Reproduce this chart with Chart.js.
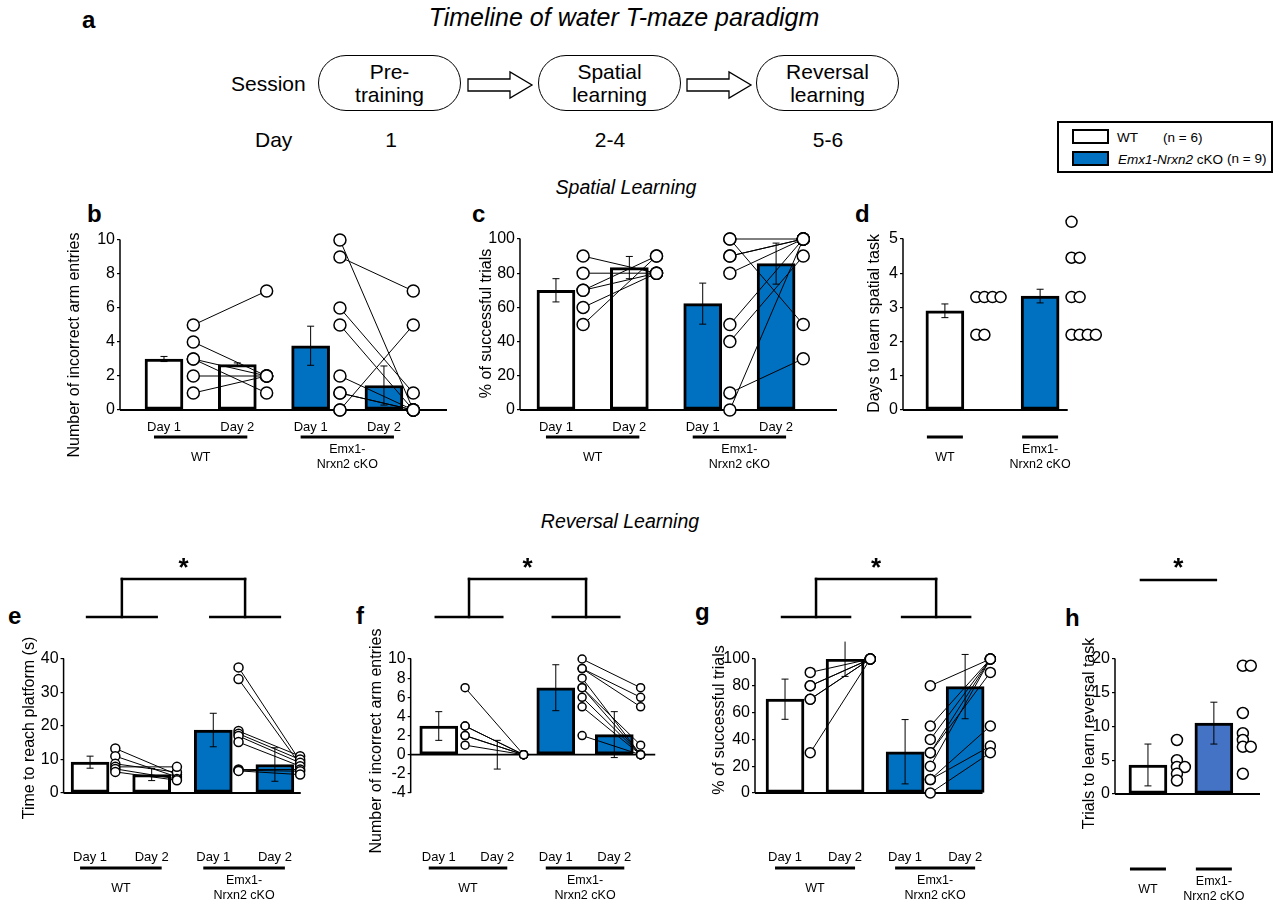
<!DOCTYPE html>
<html>
<head>
<meta charset="utf-8">
<script src="https://cdn.jsdelivr.net/npm/chart.js@4.4.1/dist/chart.umd.min.js"></script>
<style>
  body { margin: 0; width: 1280px; height: 904px; position: relative; overflow: hidden; background: #fff;
         font-family: "Liberation Sans", Arial, sans-serif; color: #000; }
  .abs { position: absolute; white-space: nowrap; line-height: 1; }
  .letter { position: absolute; font-weight: bold; font-size: 24px; line-height: 1; }
  .head { position: absolute; font-style: italic; font-size: 19.5px; line-height: 1; white-space: nowrap; transform: translateX(-50%); }
  .t20 { font-size: 21px; }
  .ctr { transform: translateX(-50%); }
  .pill { position: absolute; width: 141px; height: 54px; border: 1.5px solid #000; border-radius: 28px;
          display: flex; align-items: center; justify-content: center; text-align: center; font-size: 21px; line-height: 1.1; }
  .sw { position: absolute; width: 33px; height: 11px; border: 2px solid #000; }
  .leg { position: absolute; font-size: 13.5px; line-height: 1; white-space: nowrap; }
  canvas { position: absolute; }
</style>
</head>
<body>
<!-- panel a: timeline -->
<div class="letter" style="left:82px;top:8px">a</div>
<div class="head" style="left:624px;top:5px;font-size:25px">Timeline of water T-maze paradigm</div>
<div class="abs t20" style="left:231px;top:73px">Session</div>
<div class="pill" style="left:318px;top:55px">Pre-<br>training</div>
<svg class="abs" style="left:466px;top:70px" width="70" height="30"><polygon points="2,9 44,9 44,2 66,15 44,28 44,21 2,21" fill="#fff" stroke="#000" stroke-width="1.3"/></svg>
<div class="pill" style="left:538px;top:55px">Spatial<br>learning</div>
<svg class="abs" style="left:685px;top:70px" width="70" height="30"><polygon points="2,9 44,9 44,2 66,15 44,28 44,21 2,21" fill="#fff" stroke="#000" stroke-width="1.3"/></svg>
<div class="pill" style="left:756px;top:55px">Reversal<br>learning</div>
<div class="abs t20" style="left:255px;top:129px">Day</div>
<div class="abs t20 ctr" style="left:391px;top:129px">1</div>
<div class="abs t20 ctr" style="left:610px;top:129px">2-4</div>
<div class="abs t20 ctr" style="left:828px;top:129px">5-6</div>

<!-- legend -->
<div class="abs" style="left:1057px;top:121px;width:212px;height:48px;border:2.5px solid #000"></div>
<div class="sw" style="left:1072px;top:129px;background:#fff"></div>
<div class="leg" style="left:1117px;top:131px">WT</div>
<div class="leg" style="left:1163px;top:131px">(n = 6)</div>
<div class="sw" style="left:1072px;top:151px;background:#0070c0"></div>
<div class="leg" style="left:1118px;top:153px"><i>Emx1-Nrxn2</i> cKO</div>
<div class="leg" style="left:1227px;top:152px">(n = 9)</div>

<div class="head" style="left:626px;top:178px">Spatial Learning</div>
<div class="head" style="left:620px;top:512px">Reversal Learning</div>

<div class="letter" style="left:87px;top:202px">b</div>
<div class="letter" style="left:472px;top:202px">c</div>
<div class="letter" style="left:855px;top:202px">d</div>
<div class="letter" style="left:8px;top:604px">e</div>
<div class="letter" style="left:356px;top:604px">f</div>
<div class="letter" style="left:695px;top:600px">g</div>
<div class="letter" style="left:1065px;top:606px">h</div>

<canvas id="cb" width="400" height="280" style="left:60px;top:195px"></canvas>
<canvas id="cc" width="376" height="250" style="left:474px;top:225px"></canvas>
<canvas id="cd" width="248" height="275" style="left:862px;top:200px"></canvas>
<canvas id="ce" width="335" height="359" style="left:15px;top:545px"></canvas>
<canvas id="cf" width="328" height="359" style="left:362px;top:545px"></canvas>
<canvas id="cg" width="333" height="359" style="left:707px;top:545px"></canvas>
<canvas id="ch" width="195" height="359" style="left:1077px;top:545px"></canvas>

<script>
Chart.defaults.font.family = '"Liberation Sans", Arial, sans-serif';
Chart.defaults.color = '#000';

const sessionLabels = ['Day 1', 'Day 2', 'Day 1', 'Day 2'];
const groupLabels = ['WT', 'Emx1-\nNrxn2 cKO'];
const WHITE = '#ffffff', BLUE = '#0070c0', BLUE_H = '#4472c4';

// b - spatial learning, incorrect arm entries
const bMeans = [3.0, 2.67, 3.78, 1.44];
const bSems = [0.15, 0.1, 1.15, 1.15];
const bWtDay1 = [5, 4, 3, 3, 2, 1];
const bWtDay2 = [7, 2, 2, 1, 2, 2];
const bKoDay1 = [10, 9, 6, 5, 2, 1, 1, 0, 0];
const bKoDay2 = [0, 7, 1, 0, 0, 0, 0, 5, 0];

// c - spatial learning, % successful trials
const cMeans = [70, 83.3, 62.2, 85.6];
const cSems = [6.8, 6.5, 12, 12];
const cWtDay1 = [90, 80, 70, 70, 60, 50];
const cWtDay2 = [80, 80, 90, 80, 80, 90];
const cKoDay1 = [100, 100, 90, 90, 80, 50, 40, 10, 0];
const cKoDay2 = [100, 50, 100, 100, 100, 100, 90, 30, 100];

// d - days to learn spatial task
const dMeans = [2.9, 3.33];
const dSems = [0.2, 0.2];
const dWt = [3.3, 3.3, 3.3, 3.3, 2.2, 2.2];
const dKo = [5.5, 4.45, 4.45, 3.3, 3.3, 2.2, 2.2, 2.2, 2.2];

// e - reversal, time to reach platform
const eMeans = [9.2, 5.5, 18.8, 8.5];
const eSems = [1.8, 1.8, 5, 5];
const eWtDay1 = [13.3, 11, 8.7, 7.8, 7.2, 6.3];
const eWtDay2 = [5.5, 4.8, 6.2, 7.8, 4.2, 3.8];
const eKoDay1 = [37.5, 34, 18.5, 17.7, 17, 15.2, 7, 6.8, 6.6];
const eKoDay2 = [9.5, 8.5, 11, 10, 9, 8, 7, 6.5, 5.5];

// f - reversal, incorrect arm entries
const fMeans = [3, 0, 7, 2.1];
const fSems = [1.5, 1.5, 2.4, 2.4];
const fWtDay1 = [7, 3, 3, 2, 2, 1];
const fWtDay2 = [0, 0, 0, 0, 0, 0];
const fKoDay1 = [10, 9, 9, 8, 7, 7, 6, 5, 2];
const fKoDay2 = [7, 6, 5, 0, 1, 0, 0, 0, 0];

// g - reversal, % successful trials
const gMeans = [70, 100, 30.8, 79.4];
const gSems = [15, 13, 24, 24];
const gWtDay1 = [90, 80, 80, 70, 70, 30];
const gWtDay2 = [100, 100, 100, 100, 100, 100];
const gKoDay1 = [80, 50, 40, 30, 30, 20, 10, 10, 0];
const gKoDay2 = [100, 100, 100, 100, 90, 100, 50, 35, 30];

// h - trials to learn reversal task
const hMeans = [4.3, 10.5];
const hSems = [3.1, 3.1];
const hWt = [8, 5, 4, 4, 3, 2];
const hKo = [19, 19, 12, 9, 8, 7, 7, 3];

// axis lines, axis titles, underlines, group names and significance brackets
const seg = (ctx, x1, y1, x2, y2, w) => { ctx.lineWidth = w; ctx.beginPath(); ctx.moveTo(x1, y1); ctx.lineTo(x2, y2); ctx.stroke(); };
const decor = {
  id: 'decor',
  beforeDatasetsDraw(chart, args, o) {
    const { ctx, chartArea: a, scales: { x, y } } = chart;
    ctx.save();
    ctx.strokeStyle = '#000';
    const y0 = y.getPixelForValue(0);
    seg(ctx, a.left, y0, x.getPixelForValue(o.baseEnd), y0, 1.8);
    seg(ctx, a.left, y.getPixelForValue(o.yMin), a.left, y.getPixelForValue(o.yTop) - 0.5, 1.5);
    ctx.restore();
  },
  afterDraw(chart, args, o) {
    const { ctx, chartArea: a, scales: { x, y } } = chart;
    ctx.save();
    ctx.strokeStyle = '#000'; ctx.fillStyle = '#000';
    ctx.textAlign = 'center'; ctx.textBaseline = 'middle';
    // y title
    ctx.save();
    const yc = (y.getPixelForValue(o.yMin) + y.getPixelForValue(o.yTop)) / 2 + o.titleDy;
    ctx.translate(a.left - o.titleOff, yc);
    ctx.rotate(-Math.PI / 2);
    ctx.font = '16px "Liberation Sans", Arial, sans-serif';
    ctx.fillText(o.title, 0, 0);
    ctx.restore();
    // group underlines and names
    ctx.font = '12.5px "Liberation Sans", Arial, sans-serif';
    o.groups.forEach((g) => {
      const l = x.getPixelForValue(g.from) - o.padL, r = x.getPixelForValue(g.to) + o.padR;
      const yy = a.bottom + o.lineY;
      seg(ctx, l, yy, r, yy, 3);
      const lines = g.label.split('\n');
      lines.forEach((t, k) => ctx.fillText(t, (l + r) / 2, a.bottom + o.labelY + (k - (lines.length - 1) / 2) * 15));
    });
    if (o.bracket) {
      const top = a.top - 80, low = a.top - 42;
      ctx.lineCap = 'square';
      let cx;
      if (o.bracket === 'pair') {
        const mids = o.groups.map((g) => {
          const l = x.getPixelForValue(g.from) - 3, r = x.getPixelForValue(g.to) + 5;
          seg(ctx, l, low, r, low, 2.5);
          return (l + r) / 2;
        });
        mids.forEach((m) => seg(ctx, m, low, m, top, 2.5));
        seg(ctx, mids[0], top, mids[1], top, 2.5);
        cx = (mids[0] + mids[1]) / 2;
      } else {
        const l = x.getPixelForValue(0) - 7, r = x.getPixelForValue(1) + 2;
        seg(ctx, l, top + 1, r, top + 1, 2.5);
        cx = (l + r) / 2;
      }
      ctx.font = 'bold 26px "Liberation Sans", Arial, sans-serif';
      ctx.textBaseline = 'alphabetic';
      ctx.fillText('*', cx, top - 3);
    }
    ctx.restore();
  }
};

function panel(id, s) {
  const yTop = s.yTop !== undefined ? s.yTop : s.yMax;
  const ds = [];
  ds.push({ type: 'bar', data: s.means.map((m, i) => ({ x: i, y: m })), backgroundColor: s.colors,
            borderColor: '#000', borderWidth: 3, borderSkipped: false, barThickness: 38, order: 4 });
  s.means.forEach((m, i) => ds.push({ type: 'line', data: [{ x: i, y: m - s.sems[i] }, { x: i, y: m + s.sems[i] }],
            borderColor: '#000', borderWidth: 1, pointStyle: 'line', pointRadius: 3.5, pointBorderWidth: 1,
            pointBorderColor: '#000', clip: false, order: 3 }));
  const dot = (data) => ({ type: 'scatter', data, pointRadius: s.dotR, pointBackgroundColor: '#fff',
            pointBorderColor: '#000', pointBorderWidth: 1.5, clip: false, order: 1 });
  let groups;
  if (s.paired) {
    s.paired.forEach(([d1, d2], g) => {
      const a = 2 * g;
      d1.forEach((v, k) => ds.push({ type: 'line', data: [{ x: a + s.off, y: v }, { x: a + 1 + s.off, y: d2[k] }],
            borderColor: '#000', borderWidth: 1, pointRadius: 0, clip: false, order: 2 }));
      ds.push(dot(d1.map((v) => ({ x: a + s.off, y: v }))));
      ds.push(dot(d2.map((v) => ({ x: a + 1 + s.off, y: v }))));
    });
    groups = [{ from: 0, to: 1, label: groupLabels[0] }, { from: 2, to: 3, label: groupLabels[1] }];
  } else {
    s.swarm.forEach((vals, i) => {
      ds.push(dot(vals.map((v, k) => ({ x: i + s.off + vals.slice(0, k).filter((w) => w === v).length * s.jitter, y: v }))));
    });
    groups = [{ from: 0, to: 0, label: groupLabels[0] }, { from: 1, to: 1, label: groupLabels[1] }];
  }
  new Chart(document.getElementById(id), {
    type: 'bar',
    data: { datasets: ds },
    options: {
      responsive: false, animation: false, events: [],
      layout: { padding: { top: s.padTop, right: s.padRight, left: 0, bottom: 0 } },
      plugins: {
        legend: { display: false }, tooltip: { enabled: false },
        decor: { groups, padL: s.paired ? 10 : 18, padR: s.paired ? 10 : 18, lineY: s.lineY, labelY: s.labelY,
                 bracket: s.bracket, baseEnd: s.baseEnd !== undefined ? s.baseEnd : s.xMax, yMin: s.yMin, yTop,
                 title: s.yTitle, titleOff: s.titleOff, titleDy: s.titleDy }
      },
      scales: {
        x: {
          type: 'linear', min: s.xMin, max: s.xMax, offset: false, bounds: 'data',
          grid: { display: false, drawTicks: false }, border: { display: false },
          afterBuildTicks: (sc) => { sc.ticks = s.paired ? s.means.map((m, i) => ({ value: i })) : []; },
          ticks: { display: !!s.paired, autoSkip: false, maxRotation: 0, padding: s.tickPad,
                   font: { size: 13 }, color: '#000', callback: (v, i) => sessionLabels[i] },
          afterFit: (sc) => { sc.height = s.xH; }
        },
        y: {
          min: s.yMin, max: s.yMax,
          afterBuildTicks: (sc) => { sc.ticks = sc.ticks.filter((t) => t.value <= yTop + 1e-9); },
          ticks: { stepSize: s.yStep, autoSkip: false, font: { size: 16 }, color: '#000', padding: 2 },
          grid: { color: 'rgba(0,0,0,0)', tickColor: '#000', tickLength: 3, drawTicks: true, lineWidth: 1.2 },
          border: { display: false },
          title: { display: false },
          afterFit: (sc) => { sc.width = s.yW; }
        }
      }
    },
    plugins: [decor]
  });
}

const top3 = { xH: 65, tickPad: 10, lineY: 27, labelY: 47.5 };
const bot4 = { padTop: 114, xH: 111, tickPad: 57, lineY: 75, labelY: 95.5 };

panel('cb', { ...top3, padTop: 45, padRight: 13, yW: 60, means: bMeans, sems: bSems, colors: [WHITE, WHITE, BLUE, BLUE],
  paired: [[bWtDay1, bWtDay2], [bKoDay1, bKoDay2]], dotR: 6, xMin: -0.6, xMax: 3.86, off: 0.4,
  yMin: 0, yMax: 10, yStep: 2, yTitle: 'Number of incorrect arm entries', titleOff: 45, titleDy: 20 });
panel('cc', { ...top3, padTop: 14, padRight: 13, yW: 46, means: cMeans, sems: cSems, colors: [WHITE, WHITE, BLUE, BLUE],
  paired: [[cWtDay1, cWtDay2], [cKoDay1, cKoDay2]], dotR: 6, xMin: -0.49, xMax: 3.83, off: 0.37,
  yMin: 0, yMax: 100, yStep: 20, yTitle: '% of successful trials', titleOff: 33, titleDy: -1 });
panel('cd', { ...top3, padTop: 15, padRight: 8, yW: 41, means: dMeans, sems: dSems, colors: [WHITE, BLUE],
  swarm: [dWt, dKo], dotR: 5.5, xMin: -0.44, xMax: 1.65, baseEnd: 1.29, off: 0.33, jitter: 0.085,
  yMin: 0, yMax: 5.7, yTop: 5, yStep: 1, yTitle: 'Days to learn spatial task', titleOff: 28, titleDy: -1 });
panel('ce', { ...bot4, padRight: 12, yW: 47, means: eMeans, sems: eSems, colors: [WHITE, WHITE, BLUE, BLUE],
  paired: [[eWtDay1, eWtDay2], [eKoDay1, eKoDay2]], dotR: 4.5, xMin: -0.43, xMax: 3.42, off: 0.41,
  yMin: 0, yMax: 40, yStep: 10, yTitle: 'Time to reach platform (s)', titleOff: 34, titleDy: 2, bracket: 'pair' });
panel('cf', { ...bot4, padRight: 12, yW: 47, means: fMeans, sems: fSems, colors: [WHITE, WHITE, BLUE, BLUE],
  paired: [[fWtDay1, fWtDay2], [fKoDay1, fKoDay2]], dotR: 4, xMin: -0.48, xMax: 3.70, off: 0.45,
  yMin: -4, yMax: 10, yStep: 2, yTitle: 'Number of incorrect arm entries', titleOff: 34, titleDy: 15, bracket: 'pair' });
panel('cg', { ...bot4, padRight: 4, yW: 48, means: gMeans, sems: gSems, colors: [WHITE, WHITE, BLUE, BLUE],
  paired: [[gWtDay1, gWtDay2], [gKoDay1, gKoDay2]], dotR: 5, xMin: -0.5, xMax: 3.55, baseEnd: 3.29, off: 0.42,
  yMin: 0, yMax: 100, yStep: 20, yTitle: '% of successful trials', titleOff: 35, titleDy: -6, bracket: 'pair' });
panel('ch', { ...bot4, padRight: 12, yW: 38, xH: 110, means: hMeans, sems: hSems, colors: [WHITE, BLUE_H],
  swarm: [hWt, hKo], dotR: 5.5, xMin: -0.5, xMax: 1.7, off: 0.44, jitter: 0.12,
  yMin: 0, yMax: 20, yStep: 5, yTitle: 'Trials to learn reversal task', titleOff: 25, titleDy: 7, bracket: 'single' });
</script>
</body>
</html>
